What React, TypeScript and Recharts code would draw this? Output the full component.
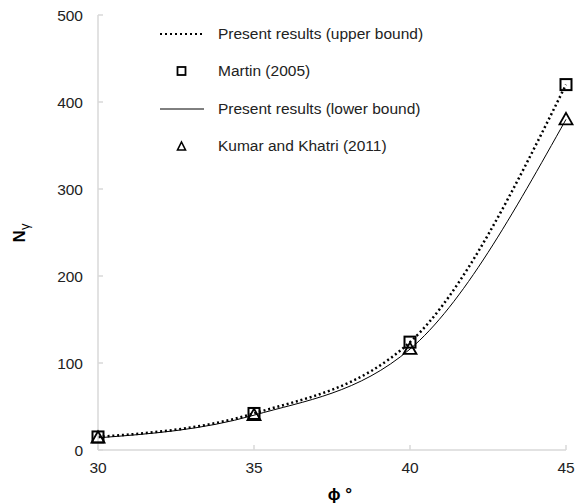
import { LineChart, Line, XAxis, YAxis } from 'recharts';

// friction angle (deg)
const phi = [30, 35, 40, 45];
const upperBound = [15, 42, 124, 420];
const martin = [15, 42, 124, 420];
const lowerBound = [14, 40, 116, 380];
const kumar = [14, 40, 116, 380];

const xTicks = [30, 35, 40, 45];
const yTicks = [0, 100, 200, 300, 400, 500];

const data = phi.map((p, i) => ({
    phi: p,
    upper: upperBound[i],
    martin: martin[i],
    lower: lowerBound[i],
    kumar: kumar[i],
}));

const FONT = '"Liberation Sans", Arial, sans-serif';
const AXIS_COLOR = '#d9d9d9';

const SquareDot = (props: any) => {
    const { cx, cy } = props;
    if (cx == null || cy == null) return null;
    return <rect x={cx - 5.5} y={cy - 5.5} width={11} height={11} fill="none" stroke="#000" strokeWidth={2} />;
};

const TriangleDot = (props: any) => {
    const { cx, cy } = props;
    if (cx == null || cy == null) return null;
    const s = 6.5;
    return (
        <path
            d={`M${cx},${cy - s} L${cx + s},${cy + s * 0.75} L${cx - s},${cy + s * 0.75} Z`}
            fill="none"
            stroke="#000"
            strokeWidth={1.8}
        />
    );
};

const legendItems = [
    { label: 'Present results (upper bound)', kind: 'dotted' },
    { label: 'Martin (2005)', kind: 'square' },
    { label: 'Present results (lower bound)', kind: 'solid' },
    { label: 'Kumar and Khatri (2011)', kind: 'triangle' },
];

// legend sits inside the plot, drawn as an overlay so it doesn't shift the axes
const ChartLegend = () => (
    <div style={{ position: 'absolute', left: 158, top: 15, fontFamily: FONT, fontSize: 15.5, color: '#222' }}>
        {legendItems.map((item) => (
            <div key={item.label} style={{ display: 'flex', alignItems: 'center', height: 37.5 }}>
                <svg width={60} height={14}>
                    {item.kind === 'dotted' && (
                        <line x1={2} y1={7} x2={45} y2={7} stroke="#000" strokeWidth={2} strokeDasharray="2 3" />
                    )}
                    {item.kind === 'solid' && <line x1={2} y1={7} x2={46} y2={7} stroke="#000" strokeWidth={1} />}
                    {item.kind === 'square' && (
                        <rect x={19.5} y={3} width={8} height={8} fill="none" stroke="#000" strokeWidth={1.8} />
                    )}
                    {item.kind === 'triangle' && (
                        <path d="M23.5,3 L27.5,11 L19.5,11 Z" fill="none" stroke="#000" strokeWidth={1.6} />
                    )}
                </svg>
                <span>{item.label}</span>
            </div>
        ))}
    </div>
);

const YTitle = () => (
    <text
        x={25}
        y={233}
        transform="rotate(-90 25 233)"
        textAnchor="middle"
        fontFamily={FONT}
        fontWeight="bold"
        fontSize={17}
        fill="#000"
    >
        N<tspan fontSize={13} fontWeight="normal" dy={4}>γ</tspan>
    </text>
);

const XTitle = () => (
    <text x={340} y={500} textAnchor="middle" fontFamily={FONT} fontWeight="bold" fontSize={17} fill="#000">
        ϕ °
    </text>
);

export default function App() {
    return (
        <div style={{ position: 'absolute', left: 0, top: 0, width: 580, height: 504, background: '#fff' }}>
            <LineChart width={580} height={504} data={data} margin={{ top: 15, right: 14, bottom: 0, left: 0 }}>
                <XAxis
                    dataKey="phi"
                    type="number"
                    domain={[30, 45]}
                    ticks={xTicks}
                    stroke={AXIS_COLOR}
                    strokeWidth={1.5}
                    tickSize={-5}
                    tickMargin={17}
                    height={54}
                    tick={{ fill: '#222', fontSize: 15.5, fontFamily: FONT }}
                    label={<XTitle />}
                />
                <YAxis
                    type="number"
                    domain={[0, 500]}
                    ticks={yTicks}
                    stroke={AXIS_COLOR}
                    strokeWidth={1.5}
                    tickSize={-5}
                    tickMargin={20}
                    width={98}
                    tick={{ fill: '#222', fontSize: 15.5, fontFamily: FONT }}
                    label={<YTitle />}
                />
                <Line
                    type="monotone"
                    dataKey="upper"
                    stroke="#000"
                    strokeWidth={2.5}
                    strokeDasharray="2 2.8"
                    dot={false}
                    isAnimationActive={false}
                />
                <Line
                    type="monotone"
                    dataKey="lower"
                    stroke="#000"
                    strokeWidth={1}
                    dot={false}
                    isAnimationActive={false}
                />
                <Line
                    dataKey="martin"
                    stroke="none"
                    dot={<SquareDot />}
                    activeDot={false}
                    isAnimationActive={false}
                />
                <Line
                    dataKey="kumar"
                    stroke="none"
                    dot={<TriangleDot />}
                    activeDot={false}
                    isAnimationActive={false}
                />
            </LineChart>
            <ChartLegend />
        </div>
    );
}
